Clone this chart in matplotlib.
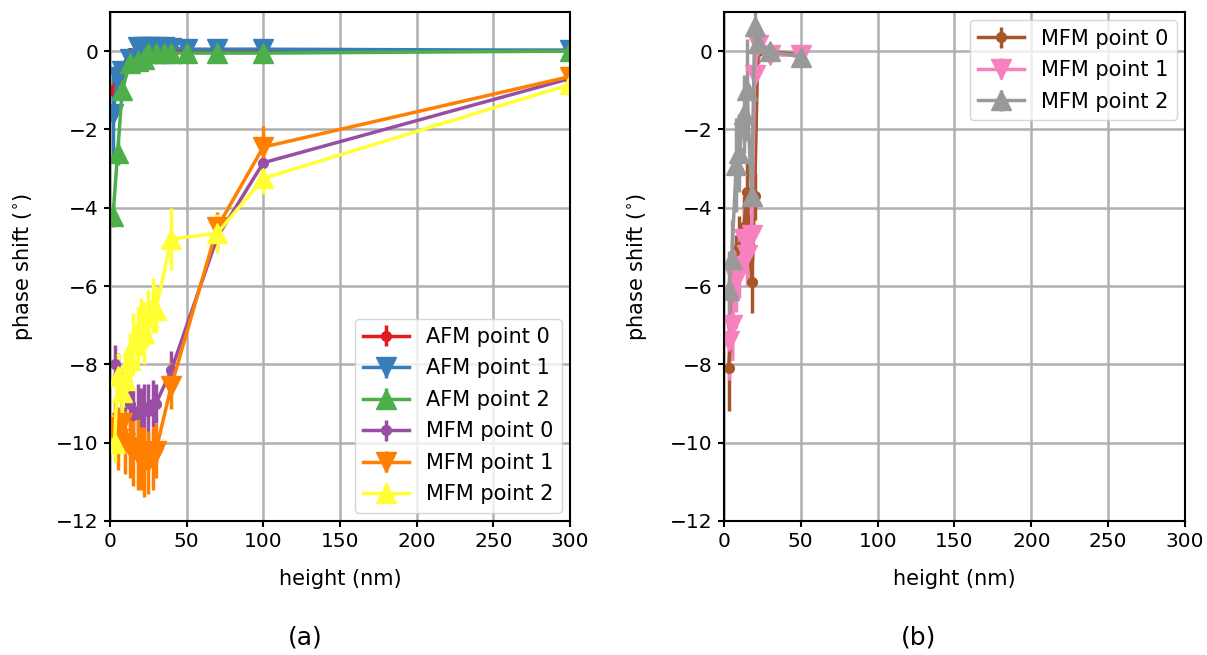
import numpy as np
import matplotlib
matplotlib.use('Agg')
import matplotlib.pyplot as plt

# AFM heights (nm) and phase shifts (deg)
afm_h = [2, 5, 8, 13, 18, 22, 25, 30, 35, 40, 50, 70, 100, 300]
afm0 = [-1.0, -0.9, -0.4, -0.05, 0.0, 0.0, 0.0, 0.0, 0.0, 0.0, 0.0, 0.0, 0.0, 0.02]
afm0_err = [0.25, 0.2, 0.15, 0.1, 0.05, 0.05, 0.05, 0.05, 0.05, 0.05, 0.05, 0.05, 0.05, 0.05]
afm1 = [-1.6, -0.65, -0.5, -0.2, 0.1, 0.1, 0.1, 0.1, 0.1, 0.08, 0.05, 0.05, 0.05, 0.02]
afm1_err = [1.2, 0.3, 0.2, 0.1, 0.05, 0.05, 0.05, 0.05, 0.05, 0.05, 0.05, 0.05, 0.05, 0.05]
afm2 = [-4.2, -2.6, -1.0, -0.3, -0.25, -0.2, -0.05, -0.05, -0.05, -0.05, -0.05, -0.05, -0.05, 0.0]
afm2_err = [0.3, 0.3, 0.2, 0.1, 0.05, 0.05, 0.05, 0.05, 0.05, 0.05, 0.05, 0.05, 0.05, 0.05]

# MFM, panel (a)
mfm_h = [3, 5, 8, 10, 13, 15, 18, 20, 22, 25, 28, 30, 40, 70, 100, 300]
mfm0 = [-8.0, -8.3, -8.7, -8.8, -9.0, -9.3, -9.2, -9.2, -9.1, -9.2, -9.0, -9.0, -8.15, -4.75, -2.85, -0.7]
mfm0_err = [0.5, 0.6, 0.6, 0.7, 0.6, 0.7, 0.7, 0.6, 0.6, 0.7, 0.6, 0.5, 0.5, 0.3, 0.2, 0.1]
mfm1 = [-9.6, -9.9, -9.5, -10.0, -10.1, -10.2, -10.3, -10.4, -10.5, -10.5, -10.4, -10.2, -8.55, -4.5, -2.45, -0.65]
mfm1_err = [0.7, 0.8, 0.7, 0.8, 0.8, 0.9, 0.9, 0.8, 0.9, 0.8, 0.8, 0.7, 0.6, 0.4, 0.55, 0.15]
mfm2 = [-10.0, -8.3, -8.7, -8.4, -7.9, -7.5, -7.3, -7.0, -7.2, -6.8, -6.5, -6.6, -4.8, -4.65, -3.25, -0.85]
mfm2_err = [0.5, 0.6, 0.6, 0.7, 0.7, 0.8, 0.8, 0.7, 0.8, 0.7, 0.7, 0.6, 0.8, 0.5, 0.4, 0.15]

# MFM, panel (b)
b_h = [3, 5, 8, 10, 13, 15, 18, 20, 22, 30, 50]
b0 = [-8.1, -7.0, -5.5, -5.0, -4.5, -3.6, -5.9, -3.7, 0.0, 0.0, -0.1]
b0_err = [1.1, 0.9, 0.8, 0.8, 0.8, 0.8, 0.8, 0.6, 0.3, 0.2, 0.2]
b1 = [-7.4, -7.0, -5.85, -5.5, -4.8, -5.2, -4.7, -0.6, 0.15, -0.1, -0.1]
b1_err = [1.0, 0.9, 0.8, 0.8, 0.8, 0.8, 0.7, 0.5, 0.3, 0.2, 0.2]
b2 = [-6.1, -5.3, -2.9, -2.6, -1.6, -1.0, -3.7, 0.65, 0.2, 0.0, -0.15]
b2_err = [1.0, 1.0, 1.2, 1.0, 1.0, 1.3, 1.6, 0.5, 0.5, 0.2, 0.2]

red, blue, green = '#e41a1c', '#377eb8', '#4daf4a'
purple, orange, yellow = '#984ea3', '#ff7f00', '#ffff33'
brown, pink, grey = '#a65628', '#f781bf', '#999999'

plt.rcParams['font.size'] = 15
plt.rcParams['xtick.labelsize'] = 14.5
plt.rcParams['ytick.labelsize'] = 14.5
plt.rcParams['xtick.major.width'] = 1.5
plt.rcParams['ytick.major.width'] = 1.5
plt.rcParams['xtick.major.size'] = 4.5
plt.rcParams['ytick.major.size'] = 4.5

fig = plt.figure(figsize=(12.07, 6.55), dpi=100)
ax1 = fig.add_axes([0.0911, 0.2046, 0.3811, 0.7771])
ax2 = fig.add_axes([0.5998, 0.2046, 0.3820, 0.7771])

kw = dict(lw=2.5, elinewidth=2.5, capsize=0)

def draw(ax, x, y, err, color, marker, label):
    ms = 7 if marker == 'o' else 14
    ax.errorbar(x, y, yerr=err, color=color, marker=marker, ms=ms, label=label, **kw)

draw(ax1, afm_h, afm0, afm0_err, red, 'o', 'AFM point 0')
draw(ax1, afm_h, afm1, afm1_err, blue, 'v', 'AFM point 1')
draw(ax1, afm_h, afm2, afm2_err, green, '^', 'AFM point 2')
draw(ax1, mfm_h, mfm0, mfm0_err, purple, 'o', 'MFM point 0')
draw(ax1, mfm_h, mfm1, mfm1_err, orange, 'v', 'MFM point 1')
draw(ax1, mfm_h, mfm2, mfm2_err, yellow, '^', 'MFM point 2')

draw(ax2, b_h, b0, b0_err, brown, 'o', 'MFM point 0')
draw(ax2, b_h, b1, b1_err, pink, 'v', 'MFM point 1')
draw(ax2, b_h, b2, b2_err, grey, '^', 'MFM point 2')

for ax in (ax1, ax2):
    ax.set_xlim(0, 300)
    ax.set_ylim(-12, 1)
    ax.set_xticks(np.arange(0, 301, 50))
    ax.set_yticks(np.arange(-12, 1, 2))
    ax.grid(True, color='#b0b0b0', lw=1.8)
    ax.set_axisbelow(True)
    ax.set_xlabel('height (nm)', labelpad=13)
    ax.set_ylabel('phase shift ($^{\\circ}$)', labelpad=15)
    for s in ax.spines.values():
        s.set_linewidth(1.5)

leg_kw = dict(fontsize=15, labelspacing=0.55, handlelength=2.2, borderaxespad=0.4)
ax1.legend(loc='lower right', **leg_kw)
ax2.legend(loc='upper right', **leg_kw)

fig.text(0.253, 0.027, '(a)', ha='center', va='center', fontsize=18)
fig.text(0.761, 0.027, '(b)', ha='center', va='center', fontsize=18)

fig.savefig('out.png', dpi=100)
